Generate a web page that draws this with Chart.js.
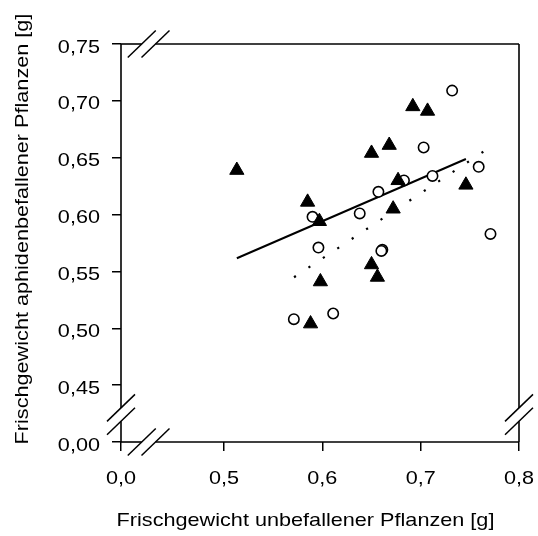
<!DOCTYPE html>
<html>
<head>
<meta charset="utf-8">
<script src="https://cdn.jsdelivr.net/npm/chart.js@4.4.0/dist/chart.umd.min.js"></script>
<style>
  body { margin: 0; background: #fff; }
  canvas { display: block; }
</style>
</head>
<body>
<canvas id="scatterChart" width="538" height="536"></canvas>
<script>
// open circles
var circleX = [0.732, 0.703, 0.759, 0.712, 0.683, 0.657, 0.638, 0.590, 0.596, 0.661, 0.660, 0.771, 0.571, 0.611];
var circleY = [0.709, 0.659, 0.642, 0.634, 0.630, 0.620, 0.601, 0.598, 0.571, 0.569, 0.568, 0.583, 0.508, 0.513];
// filled triangles
var triangleX = [0.513, 0.692, 0.707, 0.650, 0.668, 0.677, 0.746, 0.585, 0.597, 0.672, 0.650, 0.656, 0.598, 0.588];
var triangleY = [0.639, 0.695, 0.691, 0.654, 0.661, 0.630, 0.626, 0.611, 0.594, 0.605, 0.556, 0.545, 0.541, 0.504];
// regression lines (end points)
var solidLineX = [0.513, 0.746];
var solidLineY = [0.5616, 0.6489];
var dottedLineX = [0.5712, 0.7713];
var dottedLineY = [0.5449, 0.6596];

// axes: the lower part of each axis is broken, so "0,0" / "0,00" sit at a stand-in value
var xMin = 0.3952;
var xTicks = [0.3952, 0.5, 0.6, 0.7, 0.8];
var xTickLabels = ['0,0', '0,5', '0,6', '0,7', '0,8'];
var yTicks = [0.40, 0.45, 0.50, 0.55, 0.60, 0.65, 0.70, 0.75];
var yTickLabels = ['0,00', '0,45', '0,50', '0,55', '0,60', '0,65', '0,70', '0,75'];
var xBreak = [0.4163, 0.4303];
var yBreak = [0.4300, 0.4182];

var xTitle = 'Frischgewicht unbefallener Pflanzen [g]';
var yTitle = 'Frischgewicht aphidenbefallener Pflanzen [g]';

function toPoints(xs, ys) {
    return xs.map(function (x, i) { return { x: x, y: ys[i] }; });
}

var FONT = '18.5px "Liberation Sans", Arial, sans-serif';
var STRETCH = 1.17;

function drawText(ctx, text, x, y, align, rotate) {
    ctx.save();
    ctx.translate(x, y);
    if (rotate) ctx.rotate(rotate);
    ctx.scale(STRETCH, 1);
    ctx.font = FONT;
    ctx.fillStyle = '#000';
    ctx.textAlign = align;
    ctx.textBaseline = 'alphabetic';
    ctx.fillText(text, 0, 0);
    ctx.restore();
}

function line(ctx, x1, y1, x2, y2) {
    ctx.beginPath();
    ctx.moveTo(x1, y1);
    ctx.lineTo(x2, y2);
    ctx.stroke();
}

var axisPlugin = {
    id: 'brokenAxes',
    afterDraw: function (chart) {
        var ctx = chart.ctx;
        var xs = chart.scales.x, ys = chart.scales.y;
        var L = xs.getPixelForValue(xMin), R = xs.getPixelForValue(0.8);
        var T = ys.getPixelForValue(0.75), B = ys.getPixelForValue(0.40);
        var bx1 = xs.getPixelForValue(xBreak[0]), bx2 = xs.getPixelForValue(xBreak[1]);
        var by1 = ys.getPixelForValue(yBreak[0]), by2 = ys.getPixelForValue(yBreak[1]);

        ctx.save();
        ctx.strokeStyle = '#000';
        ctx.lineWidth = 1.6;
        ctx.lineCap = 'butt';
        // bottom and top, gap at the x break
        [B, T].forEach(function (yy) {
            line(ctx, L, yy, bx1, yy);
            line(ctx, bx2, yy, R, yy);
        });
        // left and right, gap at the y break
        [L, R].forEach(function (xx) {
            line(ctx, xx, T, xx, by1);
            line(ctx, xx, by2, xx, B);
        });
        // break marks
        ctx.lineWidth = 1.5;
        [bx1, bx2].forEach(function (cx) {
            [B, T].forEach(function (cy) {
                line(ctx, cx - 14, cy + 13.5, cx + 14, cy - 13.5);
            });
        });
        [by1, by2].forEach(function (cy) {
            [L, R].forEach(function (cx) {
                line(ctx, cx - 14, cy + 13.5, cx + 14, cy - 13.5);
            });
        });
        ctx.restore();

        // tick labels
        xTicks.forEach(function (v, i) {
            drawText(ctx, xTickLabels[i], xs.getPixelForValue(v), B + 42, 'center');
        });
        yTicks.forEach(function (v, i) {
            drawText(ctx, yTickLabels[i], 100, ys.getPixelForValue(v) + 8.5, 'right');
        });
        // axis titles
        drawText(ctx, xTitle, 305.5, 526, 'center');
        drawText(ctx, yTitle, 27.5, 229, 'center', -Math.PI / 2);
    }
};

var ctx = document.getElementById('scatterChart').getContext('2d');
var chart = new Chart(ctx, {
    type: 'scatter',
    data: {
        datasets: [
            {
                label: 'Kreise',
                data: toPoints(circleX, circleY),
                pointStyle: 'circle',
                pointRadius: 5.2,
                pointBackgroundColor: '#fff',
                pointBorderColor: '#000',
                pointBorderWidth: 1.6,
                order: 1
            },
            {
                label: 'Dreiecke',
                data: toPoints(triangleX, triangleY),
                pointStyle: 'triangle',
                pointRadius: 8.2,
                pointBackgroundColor: '#000',
                pointBorderColor: '#000',
                pointBorderWidth: 1,
                order: 0
            },
            {
                type: 'line',
                label: 'Regression Dreiecke',
                data: toPoints(solidLineX, solidLineY),
                borderColor: '#000',
                borderWidth: 2,
                pointRadius: 0,
                fill: false,
                order: 3
            },
            {
                type: 'line',
                label: 'Regression Kreise',
                data: toPoints(dottedLineX, dottedLineY),
                borderColor: '#000',
                borderWidth: 2.2,
                borderDash: [2.2, 15.1],
                pointRadius: 0,
                fill: false,
                order: 4
            }
        ]
    },
    options: {
        responsive: false,
        animation: false,
        layout: { padding: { top: 44, right: 19, left: 0, bottom: 0 } },
        plugins: {
            legend: { display: false },
            tooltip: { enabled: false }
        },
        scales: {
            x: {
                type: 'linear',
                min: xMin,
                max: 0.8,
                border: { display: false },
                grid: { drawOnChartArea: false, tickLength: 9, color: '#000', lineWidth: 1.5 },
                ticks: { display: false },
                afterBuildTicks: function (s) { s.ticks = xTicks.map(function (v) { return { value: v }; }); },
                afterFit: function (s) { s.height = 94; }
            },
            y: {
                type: 'linear',
                min: 0.40,
                max: 0.75,
                border: { display: false },
                grid: { drawOnChartArea: false, tickLength: 9, color: '#000', lineWidth: 1.5 },
                ticks: { display: false },
                afterBuildTicks: function (s) { s.ticks = yTicks.map(function (v) { return { value: v }; }); },
                afterFit: function (s) { s.width = 121; }
            }
        }
    },
    plugins: [axisPlugin]
});
</script>
</body>
</html>
